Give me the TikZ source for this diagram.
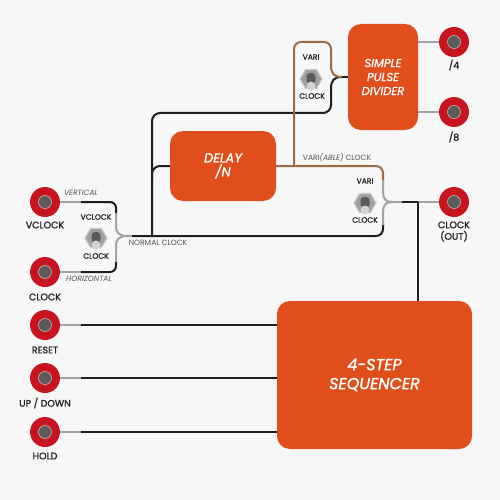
\documentclass[tikz,border=0pt]{standalone}
\usepackage{fontspec}
\setmainfont{Poppins}
\newfontfamily\medf{Poppins}[FakeBold=1.3]
\usetikzlibrary{shapes.geometric}
\definecolor{bg}{HTML}{F7F7F7}
\definecolor{boxor}{HTML}{E04E1B}
\definecolor{jackred}{HTML}{C8141E}
\definecolor{jackin}{HTML}{5A5A5A}
\definecolor{wgrey}{HTML}{A3A3A3}
\definecolor{wbrown}{HTML}{9C6B45}
\definecolor{wblack}{HTML}{1E1E1E}
\definecolor{txt}{HTML}{222222}
\definecolor{ltxt}{HTML}{555555}
\tikzset{
  block/.style={fill=boxor, rounded corners=13pt, text=white, align=center, inner sep=0pt},
  jack/.style={circle, fill=jackred, minimum size=30pt, inner sep=0pt,
    path picture={\fill[jackin] (path picture bounding box.center) circle (6.5pt);
      \draw[wgrey!70!white,line width=0.6pt] (path picture bounding box.center) circle (6.5pt);}},
  jlabel/.style={font=\medf\fontsize{9.5}{11.5}\selectfont, text=txt, inner sep=0pt, align=center},
  wlabel/.style={font=\fontsize{7.6}{9}\selectfont, text=ltxt, inner sep=0pt},
  slabel/.style={font=\medf\fontsize{7.6}{9}\selectfont, text=txt, inner sep=0pt},
  wire/.style={line width=2pt, draw=wblack},
  gwire/.style={line width=2pt, draw=wgrey},
  bwire/.style={line width=2pt, draw=wbrown},
  toggle/.pic={
    \node[regular polygon, regular polygon sides=6, fill=gray!75, draw=gray!40,
      line width=1.2pt, minimum size=22pt, inner sep=0pt] (-hex) {};
    \fill[black!65, rounded corners=3.5pt] (-4.5,-6) rectangle (4.5,5);
    \fill[gray!35] (0,7) circle (4.5pt);
  }
}
\begin{document}
\begin{tikzpicture}[x=1pt,y=-1pt]
\useasboundingbox (0,0) rectangle (500,500);
\fill[bg] (0,0) rectangle (500,500);

% boxes
\node[block, minimum width=106pt, minimum height=70pt, font=\medf\itshape\fontsize{13}{14}\selectfont] (dl) at (223,166) {DELAY\\/N};
\node[block, minimum width=70pt, minimum height=106pt, font=\medf\itshape\fontsize{11.5}{14}\selectfont] (dv) at (383,77) {SIMPLE\\PULSE\\DIVIDER};
\node[block, minimum width=195pt, minimum height=148pt, font=\medf\itshape\fontsize{16}{19}\selectfont] (sq) at (374.5,375) {4-STEP\\SEQUENCER};

% jacks
\node[jack] (vj) at (45,202) {};
\node[jack] (cj) at (45,272) {};
\node[jack] (rj) at (45,325) {};
\node[jack] (uj) at (45,378) {};
\node[jack] (hj) at (45,432) {};
\node[jack] (d4) at (454,42) {};
\node[jack] (d8) at (454,112) {};
\node[jack] (co) at (454,202) {};

% jack labels
\node[jlabel] (lvj) at (45,225) {VCLOCK};
\node[jlabel] (lcj) at (45,297) {CLOCK};
\node[jlabel] (lrj) at (45,350) {RESET};
\node[jlabel] (luj) at (45,403) {UP / DOWN};
\node[jlabel] (lhj) at (45,456) {HOLD};
\node[jlabel] (ld4) at (454,65) {/4};
\node[jlabel] (ld8) at (454,137) {/8};
\node[jlabel] (lco) at (454,231.5) {CLOCK\\(OUT)};

% switches
\pic (s0) at (96,238) {toggle};
\pic (s1) at (311,79) {toggle};
\pic (s2) at (365,203) {toggle};
\node[slabel] (s0t) at (96,217) {VCLOCK};
\node[slabel] (s0b) at (96,256) {CLOCK};
\node[slabel] (s1t) at (311,57) {VARI};
\node[slabel] (s1b) at (312,96) {CLOCK};
\node[slabel] (s2t) at (365,181) {VARI};
\node[slabel] (s2b) at (365,220) {CLOCK};

% wire labels
\node[wlabel, font=\itshape\fontsize{7.6}{9}\selectfont] (wv) at (81,193) {VERTICAL};
\node[wlabel, font=\itshape\fontsize{7.6}{9}\selectfont] (wh) at (89,279) {HORIZONTAL};
\node[wlabel] (wn) at (158,243) {NORMAL CLOCK};
\node[wlabel] (wa) at (337,158) {VARI\textit{(ABLE)} CLOCK};

% junction coordinates
\coordinate (ja) at (128,236);
\coordinate (j2) at (392,202);
\coordinate (j3) at (342,77);
\coordinate (tb) at (294,166);
\coordinate (tq) at (418,202);

% left switch
\draw[gwire] (vj.east) -- (81,202);
\draw[wire, rounded corners=6pt] (81,202) -| (116,214);
\draw[gwire] (116,213) -- (116,226) .. controls (116,233) and (119,236) .. (ja);
\draw[gwire] (cj.east) -- (81,272);
\draw[wire, rounded corners=6pt] (81,272) -| (116,261);
\draw[gwire] (116,262) -- (116,246) .. controls (116,239) and (119,236) .. (ja);
\draw[gwire] (ja) -- (133,236);

% normal clock line to switch 2
\draw[wire, rounded corners=7pt] (132,236) -| (383,224);
\draw[gwire] (383,225) -- (383,212) .. controls (383,205) and (386,202) .. (j2);
% variable clock line to switch 2
\draw[bwire, rounded corners=7pt] (dl.east) -| (383,181);
\draw[gwire] (383,180) -- (383,192) .. controls (383,199) and (386,202) .. (j2);
% output of switch 2
\draw[gwire] (j2) -- (403,202);
\draw[wire] (402,202) -- (tq);
\draw[gwire] (tq) -- (co.west);
\draw[wire] (tq) -- (tq |- sq.north);

% normal clock trunk to switch 1 and delay
\draw[wire, rounded corners=8pt] (152,237) |- (331,113) -- (331,88);
\draw[wire] (331,89) .. controls (331,80) and (334,77) .. (j3);
\draw[wire, rounded corners=8pt] (152,182) |- (dl.west);
% variable clock branch to switch 1
\draw[bwire, rounded corners=7pt] (tb) |- (331,42) -- (331,66);
\draw[bwire] (331,65) .. controls (331,74) and (334,77) .. (j3);
\draw[wire] (j3) -- (dv.west);

% divider outputs
\draw[gwire] (d4.west -| dv.east) -- (d4.west);
\draw[gwire] (d8.west -| dv.east) -- (d8.west);

% sequencer inputs
\draw[gwire] (rj.east) -- (81,325);
\draw[wire] (81,325) -- (rj -| sq.west);
\draw[gwire] (uj.east) -- (81,378);
\draw[wire] (81,378) -- (uj -| sq.west);
\draw[gwire] (hj.east) -- (81,432);
\draw[wire] (81,432) -- (hj -| sq.west);
\end{tikzpicture}
\end{document}
